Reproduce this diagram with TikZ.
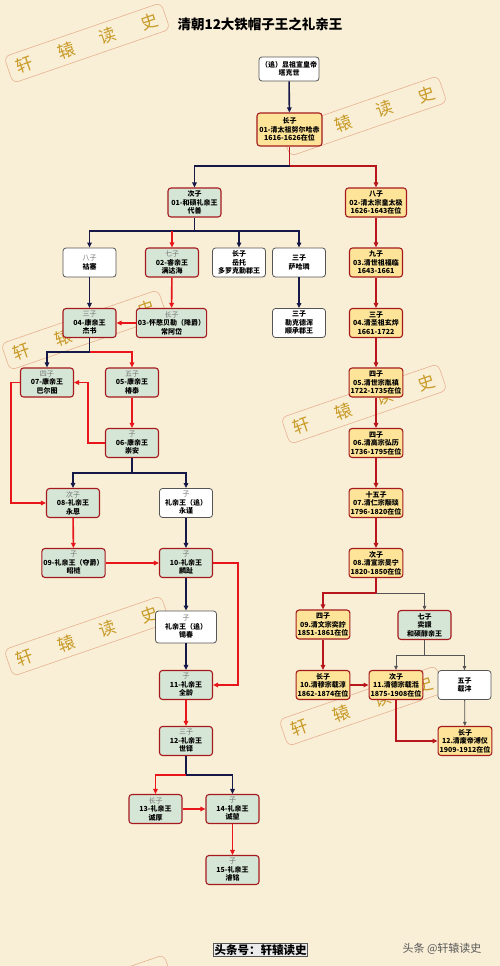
\documentclass[tikz,border=0pt]{standalone}
\usepackage{fontspec}
\setmainfont{Noto Sans CJK SC}
\usetikzlibrary{arrows.meta,positioning}
\definecolor{paper}{RGB}{249,238,214}
\definecolor{navyline}{RGB}{22,24,72}
\definecolor{redline}{RGB}{232,22,26}
\definecolor{darkredline}{RGB}{182,22,28}
\definecolor{grayline}{RGB}{85,85,85}
\definecolor{kingfill}{RGB}{253,228,152}
\definecolor{princefill}{RGB}{214,230,214}
\definecolor{boxborder}{RGB}{165,26,30}
\definecolor{stampgold}{RGB}{200,155,40}
\definecolor{stampline}{RGB}{232,178,145}

% gray birth-order label
\newcommand{\lbl}[1]{{\mdseries\color{black!55}#1}}
% tilted watermark stamp
\newcommand{\wmark}[2]{%
  \begin{scope}[shift={(#1,#2)},rotate=19]
    \draw[stampline,line width=0.6pt,rounded corners=6pt] (-83,-14) rectangle (83,14);
    \foreach \c [count=\i] in {轩,辕,读,史}
      \node[text=stampgold,font=\fontsize{17}{17}\selectfont,rotate=19] at ({44*\i-110},0) {\c};
  \end{scope}}

\begin{document}
\begin{tikzpicture}[x=1pt,y=-1pt,>={Triangle[length=5pt,width=4.5pt]},
    basebox/.style={rounded corners=3pt,line width=1.1pt,align=center,inner sep=1.5pt,
      minimum width=53pt,minimum height=29pt,font=\fontsize{7}{8.5}\selectfont\bfseries},
    kingbox/.style={basebox,fill=kingfill,draw=boxborder},
    princebox/.style={basebox,fill=princefill,draw=boxborder},
    plainbox/.style={basebox,fill=white,draw=grayline,line width=0.8pt},
    navyl/.style={draw=navyline,line width=1.6pt},
    redl/.style={draw=redline,line width=1.6pt},
    dkredl/.style={draw=darkredline,line width=1.2pt},
    grayl/.style={draw=grayline,line width=0.8pt,>={Triangle[length=4pt,width=3.5pt]}}]

    % Paper
    \fill[paper] (0,0) rectangle (500,966);
    \useasboundingbox (0,0) rectangle (500,966);

    % Watermarks
    \wmark{87}{43}
    \wmark{364}{116}
    \wmark{84}{330}
    \wmark{364}{404}
    \wmark{87}{636}
    \wmark{362}{706}
    \begin{scope}
      \clip (0,0) rectangle (500,966);
      \draw[stampline,line width=0.6pt,rounded corners=6pt,shift={(90,995)},rotate=19] (-83,-14) rectangle (83,14);
    \end{scope}

    % Title
    \node[font=\fontsize{13.5}{14}\selectfont\bfseries] (title) at (260,24) {清朝12大铁帽子王之礼亲王};

    % Root
    \node[plainbox,minimum width=60pt,minimum height=24pt] (taksi) at (289,69) {（追）显祖宣皇帝\\塔克世};
    \node[kingbox,minimum width=65pt,minimum height=33pt] (nurhaci) at (289.5,129.5) {长子\\01-清太祖努尔哈赤\\1616-1626在位};

    % Li princes
    \node[princebox] (daishan) at (194.5,202.5) {次子\\01-和硕礼亲王\\代善};
    \node[plainbox] (husai) at (89.5,262.5) {\lbl{八子}\\祜塞};
    \node[princebox] (mandahai) at (172,262.5) {\lbl{七子}\\02-睿亲王\\满达海};
    \node[plainbox] (yoto) at (239,262.5) {长子\\岳托\\多罗克勤郡王};
    \node[plainbox] (sahalin) at (299,262.5) {三子\\萨哈璘};
    \node[princebox] (giyesu) at (89.5,323) {\lbl{三子}\\04-康亲王\\杰书};
    \node[princebox] (changadai) at (171.5,323) {\lbl{长子}\\03-怀愍贝勒（降爵）\\常阿岱};
    \node[plainbox] (lekdehun) at (299,323) {三子\\勒克德浑\\顺承郡王};
    \node[princebox] (bartu) at (47,382.5) {\lbl{四子}\\07-康亲王\\巴尔图};
    \node[princebox] (chuntai) at (132,382.5) {\lbl{五子}\\05-康亲王\\椿泰};
    \node[princebox] (chongan) at (132,443) {\lbl{子}\\06-康亲王\\崇安};
    \node[princebox] (yongen) at (73,503) {\lbl{次子}\\08-礼亲王\\永恩};
    \node[plainbox] (yongjin) at (186,503) {\lbl{子}\\礼亲王（追）\\永谨};
    \node[princebox] (zhaolian) at (73.5,563) {\lbl{子}\\09-礼亲王（夺爵）\\昭梿};
    \node[princebox] (linzhi) at (186,563) {\lbl{子}\\10-礼亲王\\麟趾};
    \node[plainbox,minimum width=61pt,minimum height=32pt] (xichun) at (186,627) {\lbl{子}\\礼亲王（追）\\锡春};
    \node[princebox] (quanling) at (186,685) {\lbl{子}\\11-礼亲王\\全龄};
    \node[princebox] (shiduo) at (186,741) {\lbl{三子}\\12-礼亲王\\世铎};
    \node[princebox] (chenghou) at (155.5,809) {\lbl{长子}\\13-礼亲王\\诚厚};
    \node[princebox] (chengkun) at (232.5,809) {\lbl{子}\\14-礼亲王\\诚堃};
    \node[princebox] (junming) at (232.5,870) {\lbl{子}\\15-礼亲王\\濬铭};

    % Emperors
    \node[kingbox,minimum width=61pt] (hongtaiji) at (376,202.5) {八子\\02-清太宗皇太极\\1626-1643在位};
    \node[kingbox] (fulin) at (376,262.5) {九子\\03.清世祖福临\\1643-1661};
    \node[kingbox] (xuanye) at (376,323) {三子\\04.清圣祖玄烨\\1661-1722};
    \node[kingbox] (yinzhen) at (376,382.5) {四子\\05.清世宗胤禛\\1722-1735在位};
    \node[kingbox] (hongli) at (376,443) {四子\\06.清高宗弘历\\1736-1795在位};
    \node[kingbox] (yongyan) at (376,503) {十五子\\07.清仁宗颙琰\\1796-1820在位};
    \node[kingbox] (minning) at (376,563) {次子\\08.清宣宗旻宁\\1820-1850在位};
    \node[kingbox] (yizhu) at (323,624.5) {四子\\09.清文宗奕詝\\1851-1861在位};
    \node[princebox] (yixuan) at (424.5,625) {七子\\奕譞\\和硕醇亲王};
    \node[kingbox] (zaichun) at (323,685) {长子\\10.清穆宗载淳\\1862-1874在位};
    \node[kingbox] (zaitian) at (396,685) {次子\\11.清德宗载湉\\1875-1908在位};
    \node[plainbox] (zaifeng) at (464.5,685) {五子\\载沣};
    \node[kingbox] (puyi) at (465,741) {长子\\12.清废帝溥仪\\1909-1912在位};

    % Top links
    \draw[navyl,->] (taksi) -- (nurhaci);
    \coordinate (j01) at (289.5,166);
    \draw[dkredl] (nurhaci) -- (j01);
    \draw[dkredl,->] (j01) -| (hongtaiji);
    \draw[navyl,->] (j01) -| (daishan);

    % Daishan's sons
    \coordinate (j02) at (194.5,231);
    \draw[navyl] (daishan) -- (j02);
    \draw[navyl,->] (j02) -| (husai);
    \draw[navyl,->] (j02) -| (sahalin);
    \draw[navyl,->] (j02) -| (yoto);
    \draw[redl,->] (j02 -| mandahai) -- (mandahai);
    \draw[navyl,->] (husai) -- (giyesu);
    \draw[redl,->] (mandahai) -- (changadai);
    \draw[redl,->] (changadai) -- (giyesu);
    \draw[navyl,->] (sahalin) -- (lekdehun);

    % Kang line
    \coordinate (j04) at (89.5,352);
    \draw[navyl] (giyesu) -- (j04);
    \draw[navyl,->] (j04) -| (bartu);
    \draw[redl,->] (j04) -| (chuntai);
    \draw[redl,->] (chuntai) -- (chongan);
    \draw[redl,->] (chongan.west) -- ++(-17,0) |- (bartu);
    \draw[redl,->] (bartu.west) -- ++(-9,0) |- (yongen);
    \coordinate (j06) at (132,473);
    \draw[navyl] (chongan) -- (j06);
    \draw[navyl,->] (j06) -| (yongen);
    \draw[navyl,->] (j06) -| (yongjin);

    % Li line again
    \draw[redl,->] (yongen) -- (zhaolian);
    \draw[navyl,->] (yongjin) -- (linzhi);
    \draw[redl,->] (zhaolian) -- (linzhi);
    \draw[redl,->] (linzhi.east) -- ++(25,0) |- (quanling);
    \draw[navyl,->] (linzhi) -- (xichun);
    \draw[navyl,->] (xichun) -- (quanling);
    \draw[redl,->] (quanling) -- (shiduo);
    \coordinate (j12) at (186,775);
    \draw[navyl] (shiduo) -- (j12);
    \draw[redl,->] (j12) -| (chenghou);
    \draw[navyl,->] (j12) -| (chengkun);
    \draw[redl,->] (chenghou) -- (chengkun);
    \draw[redl,->] (chengkun) -- (junming);

    % Emperor line
    \draw[dkredl,->] (hongtaiji) -- (fulin);
    \draw[dkredl,->] (fulin) -- (xuanye);
    \draw[dkredl,->] (xuanye) -- (yinzhen);
    \draw[dkredl,->] (yinzhen) -- (hongli);
    \draw[dkredl,->] (hongli) -- (yongyan);
    \draw[dkredl,->] (yongyan) -- (minning);
    \coordinate (j08) at (376,593);
    \draw[dkredl] (minning) -- (j08);
    \draw[dkredl,->] (j08) -| (yizhu);
    \draw[grayl,->] (j08) -| (yixuan);
    \draw[dkredl,->] (yizhu) -- (zaichun);
    \draw[dkredl,->] (zaichun) -- (zaitian);
    \coordinate (j09) at (424.5,655);
    \draw[grayl] (yixuan) -- (j09);
    \draw[grayl,->] (j09) -| (zaitian);
    \draw[grayl,->] (j09) -| (zaifeng);
    \draw[grayl,->] (zaifeng) -- (puyi);
    \draw[dkredl,->] (zaitian) |- (puyi);

    % Footer
    \node[draw=grayline,fill=black!8,inner sep=1pt,font=\fontsize{11.5}{12}\selectfont\bfseries] (account) at (260.5,950) {头条号：轩辕读史};
    \node[text=black!65,font=\fontsize{11}{12}\selectfont] (credit) at (442,949) {头条 @轩辕读史};
\end{tikzpicture}
\end{document}
